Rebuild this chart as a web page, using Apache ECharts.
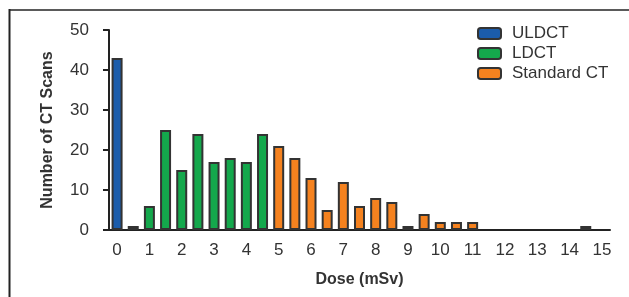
<!DOCTYPE html>
<html>
<head>
<meta charset="utf-8">
<script src="https://cdn.jsdelivr.net/npm/echarts@6/dist/echarts.min.js"></script>
<style>
html,body{margin:0;padding:0;background:#fff;}
#chart{width:629px;height:297px;}
</style>
</head>
<body>
<div id="chart"></div>
<script>
// 剂量分布直方图
var doses = ['0','0.5','1','1.5','2','2.5','3','3.5','4','4.5','5','5.5','6','6.5','7','7.5',
	'8','8.5','9','9.5','10','10.5','11','11.5','12','12.5','13','13.5','14','14.5','15'];
var counts = [43,1,6,25,15,24,17,18,17,24,21,18,13,5,12,6,8,7,1,4,2,2,2,0,0,0,0,0,0,1,0];
// 每个剂量所属的组：0 = ULDCT, 1 = LDCT, 2 = Standard CT
var groups = [0,1,1,1,1,1,1,1,1,1,2,2,2,2,2,2,2,2,2,2,2,2,2,2,2,2,2,2,2,2,2];
var groupNames = ['ULDCT','LDCT','Standard CT'];
var groupColors = ['#1b5cab','#14a84c','#f5821f'];

function groupData(g){
	var arr = [];
	for(var i=0;i<counts.length;i++){
		arr.push(groups[i]===g && counts[i]>0 ? counts[i] : '-');
	}
	return arr;
}

var series = [];
for(var g=0;g<groupNames.length;g++){
	series.push({
		name:groupNames[g],
		type:'bar',
		barWidth:11,
		barGap:'-100%',
		itemStyle:{color:groupColors[g],borderColor:'#333',borderWidth:2},
		data:groupData(g)
	});
}

var myChart = echarts.init(document.getElementById('chart'));
var option = {
	animation:false,
	textStyle:{fontFamily:'Liberation Sans, Arial, sans-serif'},
	graphic:[
		{type:'line',shape:{x1:9,y1:10,x2:629,y2:10},style:{stroke:'#5a5a5a',lineWidth:2}},
		{type:'line',shape:{x1:9.5,y1:9,x2:9.5,y2:297},style:{stroke:'#222',lineWidth:2}}
	],
	legend:{
		orient:'vertical',
		left:477,
		top:25,
		padding:0,
		itemWidth:23,
		itemHeight:11,
		itemGap:3,
		textStyle:{fontSize:17,color:'#333',padding:[0,0,0,6]},
		data:groupNames
	},
	grid:{left:109,right:19,top:30,bottom:67},
	xAxis:{
		type:'category',
		data:doses,
		name:'Dose (mSv)',
		nameLocation:'middle',
		nameGap:42,
		nameTextStyle:{fontSize:16,fontWeight:'bold',color:'#333'},
		axisLine:{lineStyle:{color:'#222',width:2}},
		axisTick:{alignWithLabel:true,interval:1,length:6,lineStyle:{color:'#222',width:2}},
		axisLabel:{interval:1,fontSize:17,color:'#333',margin:12}
	},
	yAxis:{
		type:'value',
		min:0,
		max:50,
		interval:10,
		name:'Number of CT Scans',
		nameLocation:'middle',
		nameGap:53,
		nameTextStyle:{fontSize:16,fontWeight:'bold',color:'#333'},
		axisLine:{show:true,lineStyle:{color:'#222',width:2}},
		axisTick:{show:true,length:6,lineStyle:{color:'#222',width:2}},
		axisLabel:{fontSize:17,color:'#333',margin:20},
		splitLine:{show:false}
	},
	series:series
};
myChart.setOption(option);
</script>
</body>
</html>
